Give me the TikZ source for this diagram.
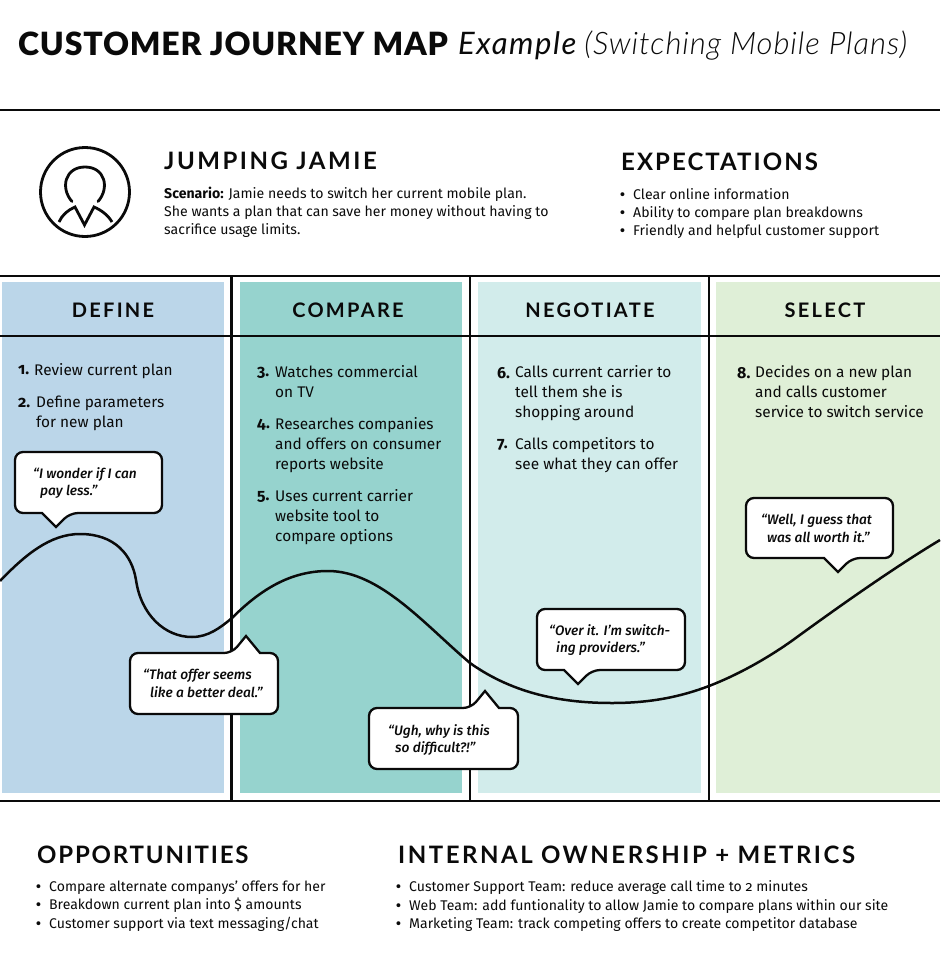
\documentclass[tikz,border=0pt]{standalone}
\usepackage{fontspec}
\setmainfont{Fira Sans}[Numbers=OldStyle]
\newfontfamily\quotefont{Fira Sans Medium}
\newfontfamily\headfont{Lato}[LetterSpace=8.5]
\newfontfamily\narrowheadfont{Lato}[LetterSpace=7.5]
\newfontfamily\wideheadfont{Lato}[LetterSpace=10.5]
\newfontfamily\phasefont{Lato}[LetterSpace=11.5]
\newfontfamily\titlefont{Lato Black}[LetterSpace=2.5]
\newfontfamily\exfont{Lato}[LetterSpace=5]
\newfontfamily\lightfont{Lato Light}[LetterSpace=3.1]
\definecolor{panelA}{HTML}{BBD6E9}
\definecolor{panelB}{HTML}{96D3CE}
\definecolor{panelC}{HTML}{D2ECEB}
\definecolor{panelD}{HTML}{DFEFD7}
\definecolor{ink}{HTML}{0A0A0A}
\tikzset{
  x=1pt,y=-1pt,
  rule/.style={draw=ink,line width=2.4pt},
  body/.style={anchor=north west,inner sep=0pt,align=left,text=ink,font=\fontsize{15.4}{20}\selectfont},
  small/.style={anchor=north west,inner sep=0pt,align=left,text=ink,font=\fontsize{14.1}{18}\selectfont},
  smallb/.style={anchor=north west,inner sep=0pt,align=left,text=ink,font=\fontsize{14.05}{18.4}\selectfont},
  num/.style={anchor=north west,inner sep=0pt,text=ink,font=\fontsize{16}{20}\selectfont\bfseries},
  heading/.style={anchor=base west,inner sep=0pt,text=ink,font=\fontsize{24}{28}\headfont\bfseries},
  narrowheading/.style={anchor=base west,inner sep=0pt,text=ink,font=\fontsize{24}{28}\narrowheadfont\bfseries},
  wideheading/.style={anchor=base west,inner sep=0pt,text=ink,font=\fontsize{24}{28}\wideheadfont\bfseries},
  phase/.style={anchor=base,inner sep=0pt,text=ink,font=\fontsize{20}{24}\phasefont\bfseries},
  quote/.style={anchor=north west,inner sep=0pt,align=left,text=ink,font=\fontsize{13.7}{17.5}\quotefont\itshape},
  bubble/.style={draw=ink,fill=white,line width=2.3pt,rounded corners=8pt,line join=miter},
}
\newcommand{\blt}{\makebox[13pt][l]{\textbf{•}}}
\newcommand{\bubbledown}[6]{% left top right bottom tailx taily
  \draw[bubble] (#1,#2) -- (#3,#2) -- (#3,#4) -- (#5+14,#4) [sharp corners] -- (#5,#6) -- (#5-14,#4) [rounded corners=8pt] -- (#1,#4) -- cycle;}
\newcommand{\bubbleup}[6]{%
  \draw[bubble] (#1,#4) -- (#1,#2) -- (#5-14,#2) [sharp corners] -- (#5,#6) -- (#5+14,#2) [rounded corners=8pt] -- (#3,#2) -- (#3,#4) -- cycle;}
\begin{document}
\begin{tikzpicture}
\useasboundingbox (0,0) rectangle (940,958);
% panels
\fill[panelA] (2,282) rectangle (224,793);
\fill[panelB] (240,282) rectangle (462,793);
\fill[panelC] (478,282) rectangle (701,793);
\fill[panelD] (716,282) rectangle (940,793);
% rules
\draw[rule] (0,110) -- (940,110);
\draw[rule] (0,276) -- (940,276);
\draw[rule] (0,336) -- (940,336);
\draw[rule] (0,801) -- (940,801);
\draw[rule] (231.5,276) -- (231.5,801);
\draw[rule] (470,276) -- (470,801);
\draw[rule] (709,276) -- (709,801);
% title
\node[anchor=base west,inner sep=0pt,text=ink] (title) at (18,56) {\fontsize{32}{36}\titlefont CUSTOMER JOURNEY MAP};
\node[anchor=base west,inner sep=0pt,text=ink] (title2) at (458,55) {\fontsize{31}{36}{\exfont\itshape Example}\hspace{8pt}{\lightfont\itshape (Switching Mobile Plans)}};
% icon
\coordinate (iconc) at (85,192);
\draw[ink,line width=2.8pt] (iconc) circle (44.5);
\draw[ink,line width=2.8pt,line cap=round] (72,201.5) .. controls (60,188) and (65,167) .. (85,167) .. controls (105,167) and (110,188) .. (98,201.5);
\draw[ink,line width=2.8pt,line join=miter] (59,222) .. controls (62,215) and (68,210) .. (75,207) -- (84.5,225) -- (94,207) .. controls (101,210) and (108,215) .. (112,222);
% persona
\node[wideheading] (persona) at (164,169) {JUMPING JAMIE};
\node[small] (scen) at (164,187) {\textbf{Scenario:} Jamie needs to switch her current mobile plan.\\She wants a plan that can save her money without having to\\sacrifice usage limits.};
\node[heading] (expect) at (621,170) {EXPECTATIONS};
\node[small] (expectl) at (620,188) {\blt Clear online information\\\blt Ability to compare plan breakdowns\\\blt Friendly and helpful customer support};
% phases
\node[phase] (p1) at (113,317) {DEFINE};
\node[phase] (p2) at (348,317) {COMPARE};
\node[phase] (p3) at (590,317) {NEGOTIATE};
\node[phase] (p4) at (825,317) {SELECT};
% steps
\node[num] (n1) at (18,365.5) {1.};
\node[body] (s1) at (34,363.5) {Review current plan};
\node[num] (n2) at (18,398) {2.};
\node[body] (s2) at (36,396) {Define parameters\\for new plan};
\node[num] (n3) at (257,367) {3.};
\node[body] (s3) at (275,365) {Watches commercial\\on TV};
\node[num] (n4) at (257,419) {4.};
\node[body] (s4) at (275,417) {Researches companies\\and offers on consumer\\reports website};
\node[num] (n5) at (257,491) {5.};
\node[body] (s5) at (275,489) {Uses current carrier\\website tool to\\compare options};
\node[num] (n6) at (497,367) {6.};
\node[body] (s6) at (515,365) {Calls current carrier to\\tell them she is\\shopping around};
\node[num] (n7) at (497,439) {7.};
\node[body] (s7) at (515,437) {Calls competitors to\\see what they can offer};
\node[num] (n8) at (737,367) {8.};
\node[body] (s8) at (755,365) {Decides on a new plan\\and calls customer\\service to switch service};
% journey curve
\draw[ink,line width=2.5pt] (0,581) .. controls (25,555) and (50,534) .. (80,534)
  .. controls (115,534) and (132,555) .. (136,580)
  .. controls (141,615) and (165,637) .. (192,637)
  .. controls (208,637) and (220,628) .. (232,618)
  .. controls (260,590) and (290,571) .. (328,571)
  .. controls (380,571) and (425,625) .. (470,663)
  .. controls (515,695) and (565,703) .. (612,703)
  .. controls (650,703) and (680,697) .. (709,686)
  .. controls (735,676) and (765,660) .. (793,640)
  .. controls (830,613) and (890,570) .. (940,540);
% bubbles
\bubbledown{15}{452}{162}{513}{56}{527}
\node[quote] (q1) at (33,467) {“I wonder if I can\\\hspace*{7pt}pay less.”};
\bubbleup{130}{653}{278}{714}{246}{636}
\node[quote] (q2) at (143,669) {“That offer seems\\\hspace*{7pt}like a better deal.”};
\bubbleup{369}{708}{518}{769}{485}{691}
\node[quote] (q3) at (388,724) {“Ugh, why is this\\\hspace*{7pt}so difficult?!”};
\bubbledown{537}{609}{685}{670}{578}{684}
\node[quote] (q4) at (549,624) {“Over it. I’m switch-\\\hspace*{7pt}ing providers.”};
\bubbledown{746}{498}{893}{558}{838}{572}
\node[quote] (q5) at (761,514) {“Well, I guess that\\\hspace*{6pt}was all worth it.”};
% bottom
\node[narrowheading] (opp) at (37,863) {OPPORTUNITIES};
\node[smallb] (oppl) at (36,880.5) {\blt Compare alternate companys’ offers for her\\\blt Breakdown current plan into \$ amounts\\\blt Customer support via text messaging/chat};
\node[wideheading] (own) at (398,863) {INTERNAL OWNERSHIP + METRICS};
\node[smallb] (ownl) at (396,880.5) {\blt Customer Support Team: reduce average call time to 2 minutes\\\blt Web Team: add funtionality to allow Jamie to compare plans within our site\\\blt Marketing Team: track competing offers to create competitor database};
\end{tikzpicture}
\end{document}
